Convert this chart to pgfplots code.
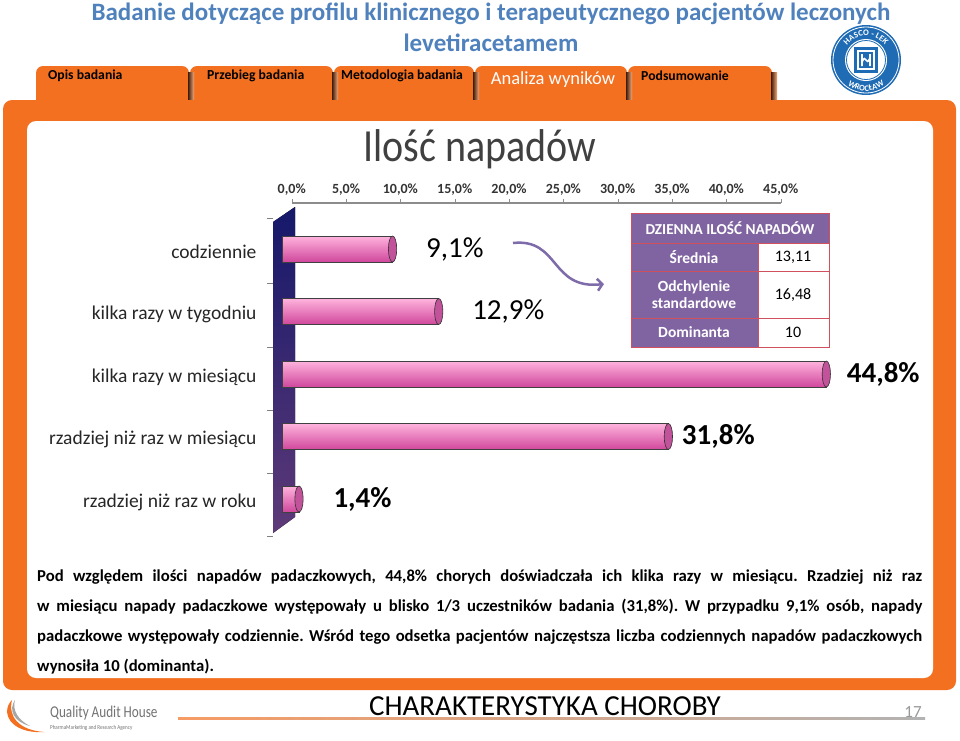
\documentclass[border=0pt]{standalone}
\usepackage{pgfplots}
\pgfplotsset{compat=1.18}
\usepackage{fontspec}
\setmainfont{Carlito}
\usetikzlibrary{arrows.meta,decorations.text}
\definecolor{qorange}{HTML}{F37021}
\definecolor{tblue}{HTML}{4F81BD}
\definecolor{tpurple}{HTML}{8064A2}
\definecolor{pinkbar}{HTML}{F562B8}
\definecolor{pinklight}{HTML}{FFB3DD}
\definecolor{pinkdark}{HTML}{D0479C}
\definecolor{capcol}{HTML}{C2529A}
\definecolor{arrowcol}{HTML}{7E6BAA}
\definecolor{logoblue}{HTML}{1F6CB5}
\definecolor{tblborder}{HTML}{D0505E}
\definecolor{wallTop}{HTML}{15186A}
\definecolor{wallBot}{HTML}{5E3A78}

\pgfplotsset{
  lbl/.style={only marks, mark=none, point meta=x,
    nodes near coords={\pgfmathprintnumber[fixed,fixed zerofill,precision=1,use comma]{\pgfplotspointmeta}\%},
    nodes near coords style={anchor=west, xshift=#1, text=black}},
  pinkbar/.style={xbar, bar shift=0pt, bar width=26pt, draw=black!75, line width=0.5pt,
    top color=pinklight, middle color=pinkbar, bottom color=pinkdark},
}

\begin{document}
\frenchspacing
\begin{tikzpicture}
\begin{scope}[x=1pt,y=-1pt]
\useasboundingbox (0,0) rectangle (960,740);
\fill[white] (0,0) rectangle (960,740);

% title
\node[text=tblue, font=\bfseries\fontsize{25}{28}\selectfont] at (491,14) {Badanie dotyczące profilu klinicznego i terapeutycznego pacjentów leczonych};
\node[text=tblue, font=\bfseries\fontsize{25}{28}\selectfont] at (491,43) {levetiracetamem};

% tabs
\foreach \a/\b in {36/190, 190/334, 334/475, 475/628, 628/773} {
  \fill[qorange, rounded corners=7pt] (\a,66) rectangle (\b-1,112);
}
\foreach \b in {190, 334, 475, 628, 773} {
  \fill[left color=black!75!qorange, right color=qorange!60!white] (\b-2,72) rectangle (\b+4,100);
}

% frame
\fill[qorange, rounded corners=9pt] (3,100) rectangle (956,690);
\fill[white, rounded corners=9pt] (27,121) rectangle (933,678);

% tab texts
\node[anchor=west, font=\bfseries\fontsize{13.7}{15}\selectfont, inner sep=0pt] at (48,76) {Opis badania};
\node[anchor=west, font=\bfseries\fontsize{13.7}{15}\selectfont, inner sep=0pt] at (207,76) {Przebieg badania};
\node[anchor=west, font=\bfseries\fontsize{13.7}{15}\selectfont, inner sep=0pt] at (341,76) {Metodologia badania};
\node[font=\fontsize{18.5}{20}\selectfont, text=white, inner sep=0pt] at (553,80) {Analiza wyników};
\node[anchor=west, font=\bfseries\fontsize{13.7}{15}\selectfont, inner sep=0pt] at (641,76) {Podsumowanie};

% HASCO logo
\fill[logoblue] (866,60) circle (35);
\draw[white, line width=0.8pt] (866,60) circle (33);
\fill[white] (866,60) circle (21);
\draw[logoblue, line width=0.8pt] (866,60) circle (19.5);
\fill[logoblue] (854,47) rectangle (878,73);
\fill[white] (857,50) rectangle (875,70);
\fill[logoblue] (859,52) rectangle (873,68);
\draw[white, line width=1.6pt] (862,54) -- (862,66) (870,54) -- (870,66) (862,62) .. controls (866,52) and (866,68) .. (870,58);
\path[decorate, decoration={text along path, text align=center,
  text={|\bfseries\fontsize{8.5}{9}\selectfont\color{white}|HASCO - LEK}}]
  (842,60) arc[start angle=180, end angle=360, radius=24];
\path[decorate, decoration={text along path, text align=center,
  text={|\bfseries\fontsize{8.5}{9}\selectfont\color{white}|WROCŁAW}}]
  (835,60) arc[start angle=180, end angle=0, radius=31];

% chart title
\node[text=black!75, font=\fontsize{46}{48}\selectfont, xscale=0.87] at (480,149) {Ilość napadów};

% wall
\fill[top color=wallTop, bottom color=wallBot] (273,222) -- (295,207) -- (295,517) -- (273,533) -- cycle;
\foreach \t in {218,283,347,410,473,536} {\draw[black!50] (267,\t) -- (273,\t);}

% arrow
\draw[arrowcol, line width=2.5pt, -{Straight Barb[length=5pt, width=12pt]}] (513,243) .. controls (560,238) and (550,290) .. (604,284);

% table
\fill[tpurple] (631,213) rectangle (829,347);
\fill[white] (758,243) rectangle (829,347);
\draw[tblborder, line width=0.8pt] (631,213) rectangle (829,347);
\draw[tblborder, line width=0.8pt] (631,243) -- (829,243) (631,271) -- (829,271) (631,318) -- (829,318) (758,243) -- (758,347);
\node[text=white, font=\bfseries\fontsize{15.2}{17}\selectfont] at (730,228) {DZIENNA ILOŚĆ NAPADÓW};
\node[text=white, font=\bfseries\fontsize{15.5}{17}\selectfont] at (694,257) {Średnia};
\node[text=white, font=\bfseries\fontsize{15.5}{17}\selectfont, align=center] at (694,294.5) {Odchylenie\\standardowe};
\node[text=white, font=\bfseries\fontsize{15.5}{17}\selectfont] at (694,332) {Dominanta};
\node[font=\fontsize{16}{18}\selectfont] at (793,257) {13,11};
\node[font=\fontsize{16}{18}\selectfont] at (793,295) {16,48};
\node[font=\fontsize{16}{18}\selectfont] at (793,332) {10};

% paragraph
\node[anchor=north west, text width=885pt, align=justify, inner sep=0pt, font=\bfseries\fontsize{16.7}{30}\selectfont] at (37,570) {Pod względem ilości napadów padaczkowych, 44,8\% chorych doświadczała ich klika razy w miesiącu. Rzadziej niż raz\linebreak w miesiącu napady padaczkowe występowały u blisko 1/3 uczestników badania (31,8\%). W przypadku 9,1\% osób, napady\linebreak padaczkowe występowały codziennie. Wśród tego odsetka pacjentów najczęstsza liczba codziennych napadów padaczkowych\linebreak wynosiła 10 (dominanta).};

% footer
\fill[left color=qorange!70, right color=black!30] (178,717) rectangle (925,719);
\node[font=\fontsize{29}{31}\selectfont] at (545,706) {CHARAKTERYSTYKA CHOROBY};
\node[text=black!40, font=\fontsize{17}{19}\selectfont] at (913,712) {17};
\fill[qorange] (12,700) .. controls (0,712) and (10,734) .. (44,732) .. controls (18,730) and (8,716) .. (12,700) -- cycle;
\fill[black!35] (15,700) .. controls (8,710) and (14,722) .. (30,726) .. controls (18,720) and (12,710) .. (15,700) -- cycle;
\node[anchor=west, text=black!55, font=\fontsize{16.5}{18}\selectfont, xscale=0.8, inner sep=0pt] at (50,713) {Quality Audit House};
\node[anchor=west, text=black!55, font=\fontsize{6}{7}\selectfont, xscale=0.85, inner sep=0pt] at (50,728) {PharmaMarketing and Research Agency};
\end{scope}

% top tick axis
\begin{axis}[at={(291.7pt,-203pt)}, anchor=north west, scale only axis,
  width=489pt, height=10pt, xmin=0, xmax=45, ymin=0, ymax=1,
  axis x line*=top, axis y line=none,
  axis line style={draw=black!45, line width=1.2pt, -},
  xtick={0,5,...,45}, tick align=outside, major tick length=4pt,
  tick style={draw=black!45},
  /pgf/number format/assume math mode=true,
  xticklabel={\pgfmathprintnumber[fixed,fixed zerofill,precision=1,use comma]{\tick}\%},
  xticklabel style={font=\bfseries\fontsize{14}{16}\selectfont, text=black!80},
]
\addplot[draw=none] coordinates {(0,0)};
\end{axis}

% bars axis
\begin{axis}[at={(282pt,-217.75pt)}, anchor=north west, scale only axis,
  width=546.75pt, height=312.5pt, xmin=0, xmax=45, ymin=0.5, ymax=5.5,
  y dir=reverse, clip=false,
  axis line style={draw=none}, xtick=\empty,
  ytick={1,2,3,4,5},
  yticklabels={codziennie, kilka razy w tygodniu, kilka razy w miesiącu, rzadziej niż raz w miesiącu, rzadziej niż raz w roku},
  major tick length=0pt,
  yticklabel style={font=\fontsize{19.5}{22}\selectfont, text=black!85, xshift=-22pt, yshift=-3pt},
  /pgf/number format/assume math mode=true,
]
\addplot[pinkbar] coordinates {(9.1,1)};
\addplot[pinkbar] coordinates {(12.9,2)};
\addplot[pinkbar] coordinates {(44.8,3)};
\addplot[pinkbar] coordinates {(31.8,4)};
\addplot[pinkbar] coordinates {(1.4,5)};
\addplot[only marks, mark=*, mark size=13pt,
  mark options={xscale=0.32, fill=capcol, draw=black!80, line width=0.6pt}]
  coordinates {(9.1,1) (12.9,2) (44.8,3) (31.8,4) (1.4,5)};
\addplot[lbl=30pt, nodes near coords style={font=\fontsize{29}{31}\selectfont}]
  coordinates {(9.1,1) (12.9,2)};
\addplot[lbl=17pt, nodes near coords style={font=\bfseries\fontsize{29}{31}\selectfont}]
  coordinates {(44.8,3)};
\addplot[lbl=10pt, nodes near coords style={font=\bfseries\fontsize{29}{31}\selectfont}]
  coordinates {(31.8,4)};
\addplot[lbl=31pt, nodes near coords style={font=\bfseries\fontsize{29}{31}\selectfont}]
  coordinates {(1.4,5)};
\end{axis}
\end{tikzpicture}
\end{document}
